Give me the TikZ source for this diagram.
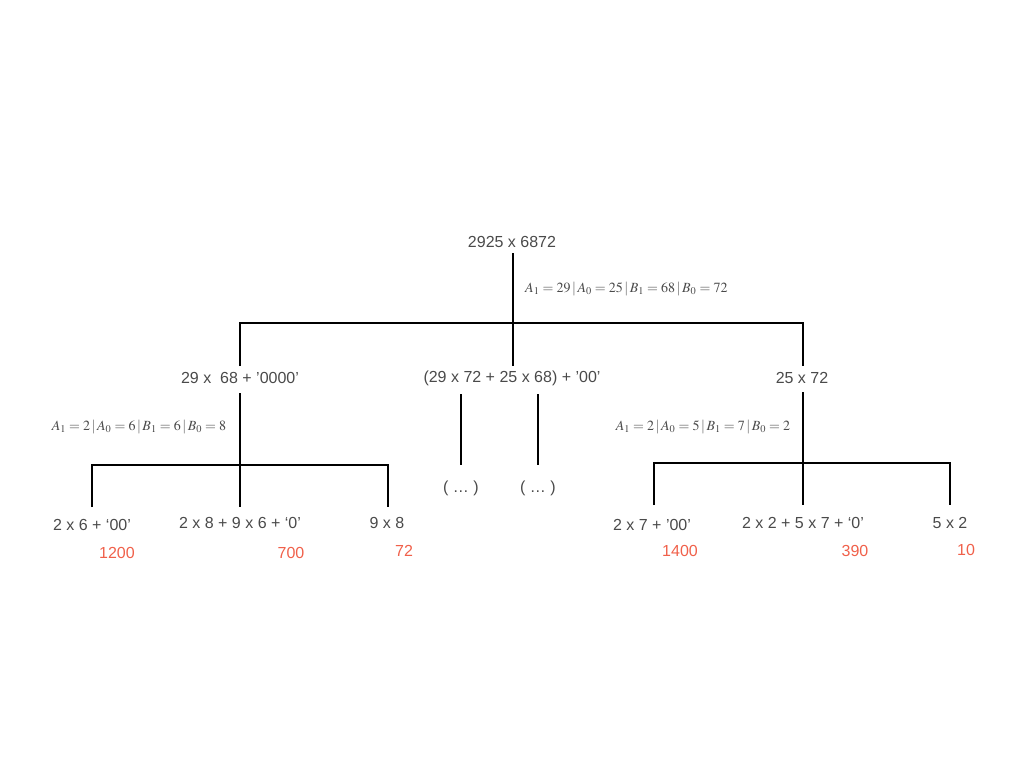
\documentclass[tikz,border=0pt]{standalone}
\usepackage{mathptmx}
\usepackage{fontspec}
\setmainfont{Liberation Sans}
\definecolor{txt}{HTML}{4A4A4A}
\definecolor{res}{HTML}{F0604A}
\tikzset{
  lbl/.style={inner sep=0pt, text=txt, font=\fontsize{16}{19}\selectfont},
  rlbl/.style={inner sep=0pt, text=res, font=\fontsize{16}{19}\selectfont},
  mlbl/.style={inner sep=0pt, text=txt, font=\fontsize{14}{16}\selectfont},
  ln/.style={line width=2pt, black},
}
\begin{document}
\begin{tikzpicture}[x=1pt,y=-1pt]
\useasboundingbox (0,0) rectangle (1024,768);
% root
\node[lbl] (root) at (512,242) {2925 x 6872};
\node[mlbl, anchor=west] (rootm) at (525,289) {$A_1 = 29\,|\,A_0 = 25\,|\,B_1 = 68\,|\,B_0 = 72$};
% level 1
\node[lbl] (c1) at (240,378) {29 x\ \ 68 + '0000'};
\node[lbl] (c2) at (512,378) {(29 x 72 + 25 x 68) + '00'};
\node[lbl] (c3) at (802,378) {25 x 72};
\coordinate (rtop) at (513,253);
\coordinate (rj) at (513,323);
\coordinate (rL) at (240,323);
\coordinate (rR) at (803,323);
\coordinate (c1t) at (240,366);
\coordinate (c2t) at (513,366);
\coordinate (c3t) at (803,366);
\draw[ln] (rtop) -- (c2t);
\draw[ln] (c1t) -- (rL) -- (rR) -- (c3t);
% left subtree
\node[mlbl] (c1m) at (139,427) {$A_1 = 2\,|\,A_0 = 6\,|\,B_1 = 6\,|\,B_0 = 8$};
\node[lbl] (g1) at (92,525) {2 x 6 + ‘00’};
\node[lbl] (g2) at (240,523) {2 x 8 + 9 x 6 + ‘0’};
\node[lbl] (g3) at (387,523) {9 x 8};
\node[rlbl] (r1) at (117,553) {1200};
\node[rlbl] (r2) at (291,553) {700};
\node[rlbl] (r3) at (404,551) {72};
\coordinate (c1b) at (240,393);
\coordinate (c1j) at (240,465);
\coordinate (c1L) at (92,465);
\coordinate (c1R) at (388,465);
\coordinate (g1t) at (92,507);
\coordinate (g2t) at (240,507);
\coordinate (g3t) at (388,507);
\draw[ln] (c1b) -- (g2t);
\draw[ln] (g1t) -- (c1L) -- (c1R) -- (g3t);
% middle
\node[lbl] (d1) at (461,488) {( … )};
\node[lbl] (d2) at (538,488) {( … )};
\coordinate (m1t) at (461,394);
\coordinate (m1b) at (461,465);
\coordinate (m2t) at (538,394);
\coordinate (m2b) at (538,465);
\draw[ln] (m1t) -- (m1b);
\draw[ln] (m2t) -- (m2b);
% right subtree
\node[mlbl] (c3m) at (703,427) {$A_1 = 2\,|\,A_0 = 5\,|\,B_1 = 7\,|\,B_0 = 2$};
\node[lbl] (h1) at (652,525) {2 x 7 + ’00’};
\node[lbl] (h2) at (803,523) {2 x 2 + 5 x 7 + ‘0’};
\node[lbl] (h3) at (950,523) {5 x 2};
\node[rlbl] (s1) at (680,551) {1400};
\node[rlbl] (s2) at (855,551) {390};
\node[rlbl] (s3) at (966,550) {10};
\coordinate (c3b) at (803,392);
\coordinate (c3j) at (803,463);
\coordinate (c3L) at (654,463);
\coordinate (c3R) at (950,463);
\coordinate (h1t) at (654,505);
\coordinate (h2t) at (803,505);
\coordinate (h3t) at (950,505);
\draw[ln] (c3b) -- (h2t);
\draw[ln] (h1t) -- (c3L) -- (c3R) -- (h3t);
\end{tikzpicture}
\end{document}
